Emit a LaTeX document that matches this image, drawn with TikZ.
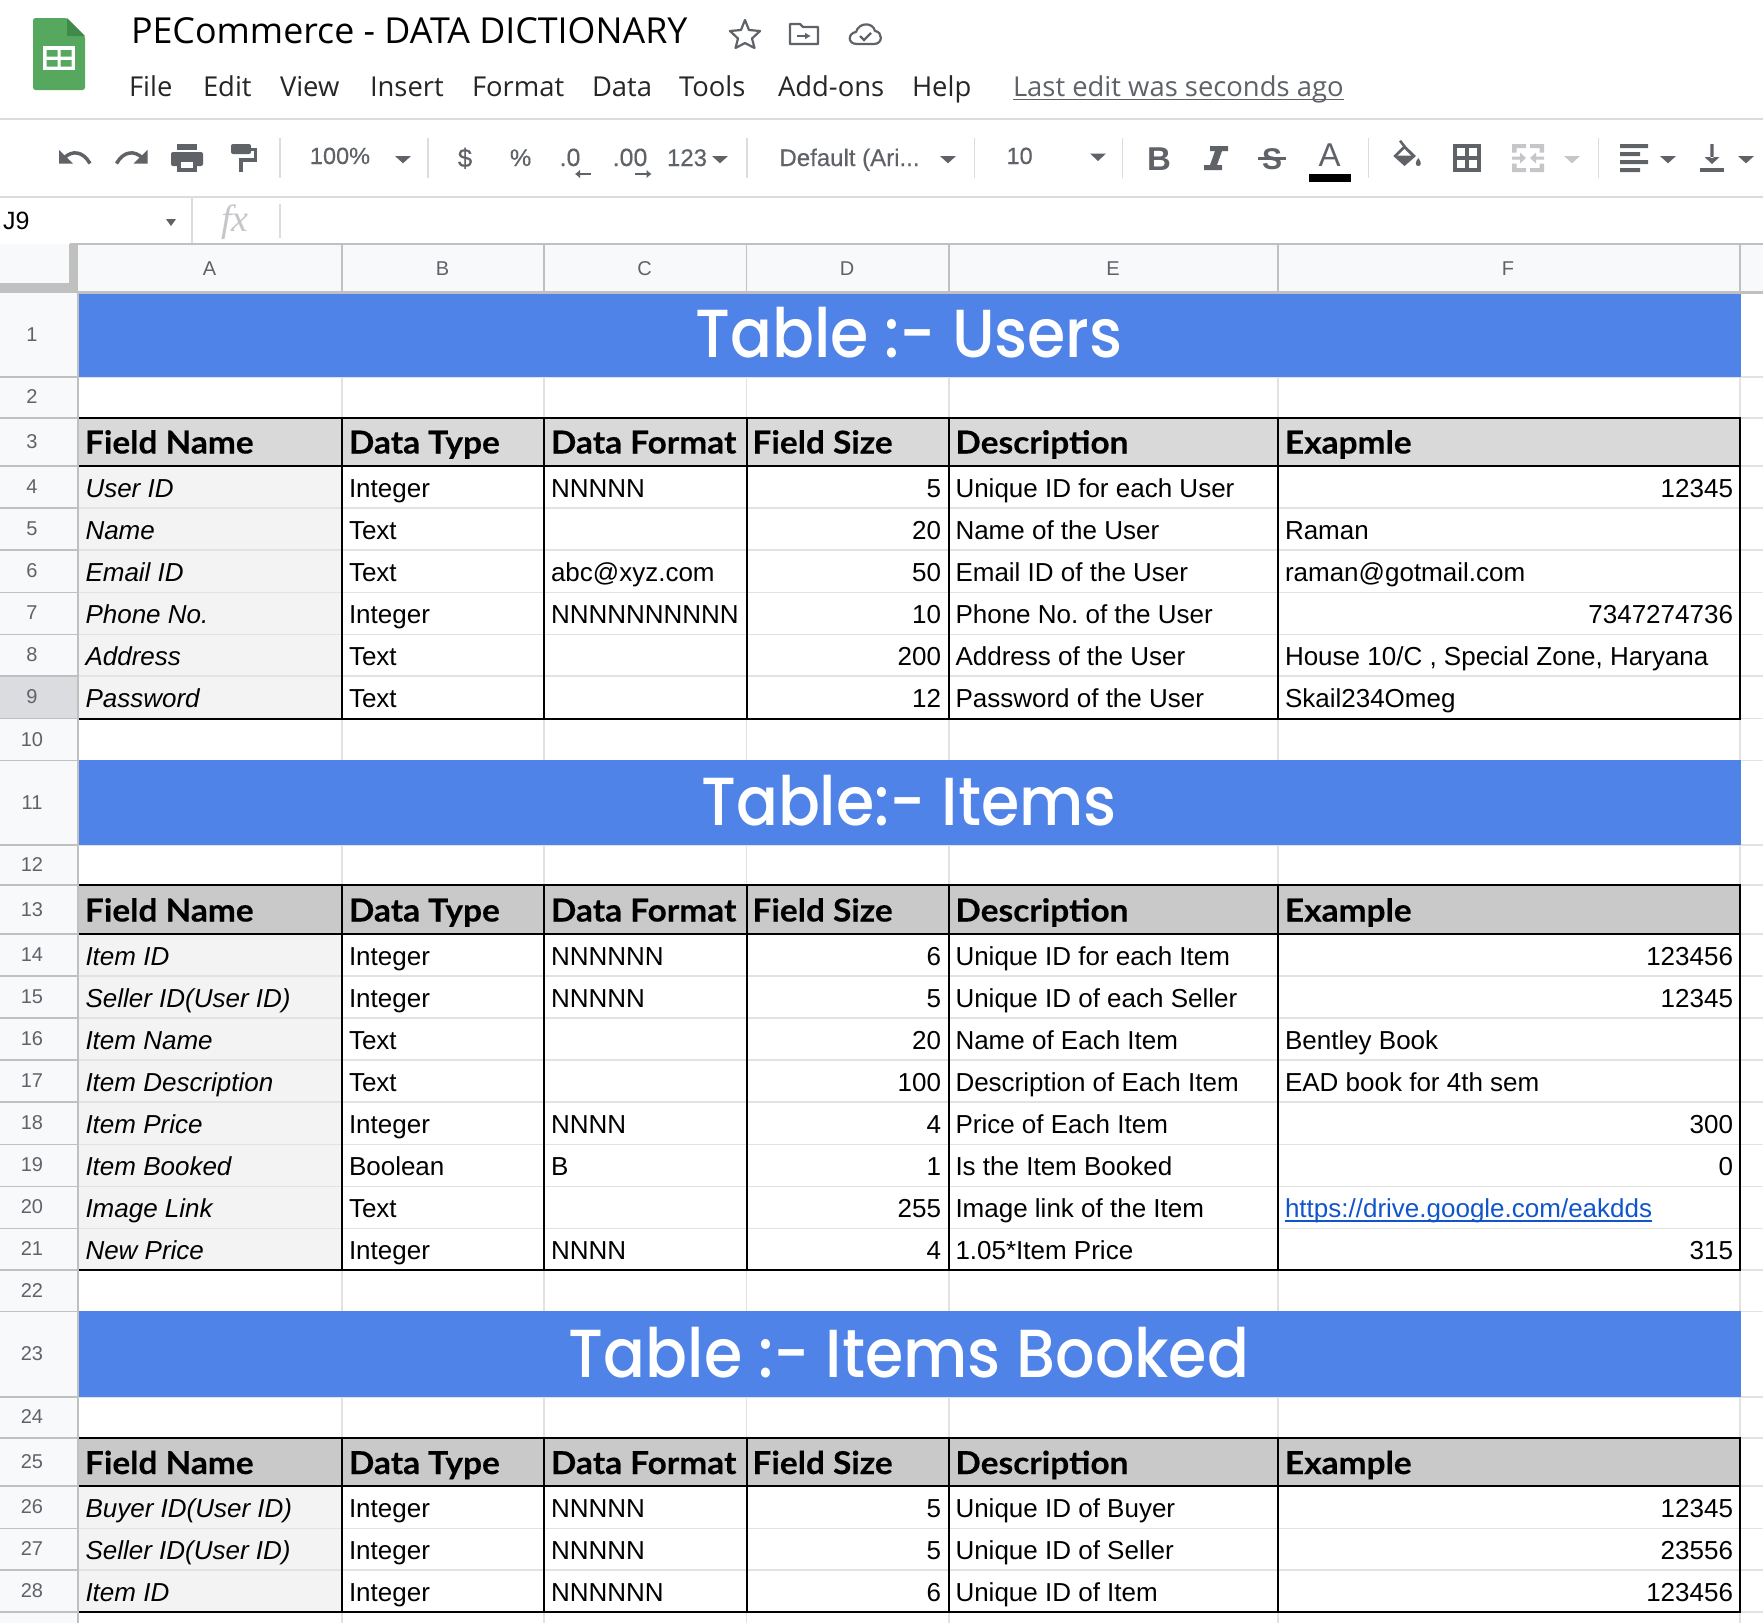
\documentclass[tikz,border=0pt]{standalone}
\usetikzlibrary{arrows.meta}
\usepackage{fontspec}
\setmainfont{Liberation Sans}
\newfontfamily\uifam{Open Sans}
\newfontfamily\hdrfam{Lato}[BoldFeatures={FakeBold=0.3}]
\newfontfamily\bandfam{Poppins}[UprightFont=* Medium]
\newfontfamily\fxfam{Liberation Serif}
\newfontfamily\tbfam{Liberation Sans}[FakeBold=0.35]
\newcommand{\fsz}[1]{\fontsize{#1}{#1}\selectfont}
\definecolor{uigray}{HTML}{5F6368}
\definecolor{uiline}{HTML}{DADCE0}
\definecolor{hdrbg}{HTML}{F8F9FA}
\definecolor{hdrline}{HTML}{C0C0C0}
\definecolor{gridc}{HTML}{E2E2E2}
\definecolor{bandc}{HTML}{4F83E8}
\definecolor{hdrA}{HTML}{D9D9D9}
\definecolor{hdrB}{HTML}{C9C9C9}
\definecolor{colA}{HTML}{F3F3F3}
\definecolor{linkc}{HTML}{1155CC}
\definecolor{sheetg}{HTML}{57A85F}
\definecolor{sheetd}{HTML}{3F8A4B}
\definecolor{lightic}{HTML}{C4C6C9}
\tikzset{
  txt/.style={inner sep=0pt,outer sep=0pt},
  cell/.style={txt,anchor=base west,font=\fsz{26},text=black},
  cellit/.style={cell,font=\fsz{26}\itshape},
  cellr/.style={txt,anchor=base east,font=\fsz{26},text=black},
  head/.style={txt,anchor=base west,font=\hdrfam\bfseries\fsz{31.5},text=black,xscale=1.06,transform shape},
  bandt/.style={txt,anchor=base,font=\bandfam\fsz{68},text=white,xscale=.91,transform shape},
  rownumt/.style={txt,anchor=base,font=\fsz{20},text=uigray},
  colt/.style={txt,anchor=base,font=\fsz{20},text=uigray},
  menut/.style={txt,anchor=base west,font=\uifam\fsz{27.4},text=black!85},
  tbt/.style={txt,anchor=base,font=\tbfam\fsz{23.5},text=uigray},
  sepl/.style={uiline,line width=1.5pt},
  tri/.style={fill=uigray},
  icon/.style={draw=uigray,line width=3.5pt},
  blackl/.style={black,line width=2pt},
}
% column edges: 78 342 544 746.6 949 1278 1740.2
\newcommand{\cellt}[4]{\if\relax\detokenize{#4}\relax\else\node[#1] (#2) at (#3) {#4};\fi}
\newcommand{\rowdata}[7]{% num, base, A, B, C, D, E
  \cellt{cellit}{c#1A}{85.5,#2}{#3}
  \cellt{cell}{c#1B}{349,#2}{#4}
  \cellt{cell}{c#1C}{551,#2}{#5}
  \cellt{cellr}{c#1D}{941,#2}{#6}
  \cellt{cell}{c#1E}{955.5,#2}{#7}
}
\newcommand{\exL}[3]{\node[cell] (c#1F) at (1285,#2) {#3};}
\newcommand{\exR}[3]{\node[cellr] (c#1F) at (1733,#2) {#3};}
\newcommand{\headrow}[3]{% num, base, last title
  \node[head] (c#1A) at (85,#2) {Field Name};
  \node[head] (c#1B) at (349,#2) {Data Type};
  \node[head] (c#1C) at (551,#2) {Data Format};
  \node[head] (c#1D) at (752.5,#2) {Field Size};
  \node[head] (c#1E) at (955.5,#2) {Description};
  \node[head] (c#1F) at (1285,#2) {#3};
}
\newcommand{\tablebg}[4]{% top, head bottom, bottom, header colour
  \fill[#4] (78,#1) rectangle (1740.2,#2);
  \fill[colA] (78,#2) rectangle (342,#3);
}
\newcommand{\tablelines}[3]{%
  \draw[blackl] (78,#1) -- (1741.2,#1) (78,#2) -- (1741.2,#2) (78,#3) -- (1741.2,#3);
  \foreach \xx in {342,544,746.6,949,1278,1740.2} {\draw[blackl] (\xx,#1) -- (\xx,#3);}
}
\newcommand{\rnum}[3]{% num, top, bottom
  \node[rownumt] (r#1) at (32,{(#2+#3)/2+6.5}) {#1};
  \draw[hdrline,line width=1.5pt] (0,#3) -- (78,#3);
}
\begin{document}
\frenchspacing
\begin{tikzpicture}[x=1pt,y=-1pt]
\useasboundingbox (0,0) rectangle (1763,1623);
\fill[white] (0,0) rectangle (1763,1623);

% ---- title bar
\fill[sheetg,rounded corners=2.5pt] (33,18) -- (67,18) -- (85,36) -- (85,90) -- (33,90) -- cycle;
\fill[sheetd] (67,18) -- (85,36) -- (67,36) -- cycle;
\fill[white] (43,46) rectangle (75,70);
\fill[sheetg] (46.5,50) rectangle (57.5,56.5) (60.5,50) rectangle (71.5,56.5) (46.5,60) rectangle (57.5,66.5) (60.5,60) rectangle (71.5,66.5);
\node[txt,anchor=base west,font=\uifam\fsz{35.8},text=black] (title) at (131,43.5) {PECommerce - DATA DICTIONARY};
% star
\draw[uigray,line width=2.2pt,line join=round] (745,20) -- (749,30) -- (760,31) -- (752,38.5) -- (754.5,48) -- (745,43) -- (735.5,48) -- (738,38.5) -- (730,31) -- (741,30) -- cycle;
% folder
\draw[uigray,line width=2.2pt,line join=round] (790,24) -- (800,24) -- (803,27) -- (818,27) -- (818,44) -- (790,44) -- cycle;
\draw[uigray,line width=2.2pt,-{Latex[length=6pt,width=7pt]}] (797,36) -- (811,36);
% cloud
\draw[uigray,line width=2.2pt,line join=round] (857,44) .. controls (847,44) and (848,33) .. (856,32) .. controls (859,22) and (873,22) .. (875,31) .. controls (883,32) and (883,44) .. (874,44) -- cycle;
\draw[uigray,line width=2.2pt] (860,36) -- (864,40) -- (871,33);
% menu
\node[menut] (mFile) at (129,96) {File};
\node[menut] (mEdit) at (203,96) {Edit};
\node[menut] (mView) at (280,96) {View};
\node[menut] (mInsert) at (370,96) {Insert};
\node[menut] (mFormat) at (472,96) {Format};
\node[menut] (mData) at (592,96) {Data};
\node[menut] (mTools) at (679,96) {Tools};
\node[menut] (mAdd) at (778,96) {Add-ons};
\node[menut] (mHelp) at (912,96) {Help};
\node[menut,text=uigray] (lastedit) at (1013,96) {Last edit was seconds ago};
\draw[uigray,line width=1.5pt] ([yshift=-3.5pt]lastedit.base west) -- ([yshift=-3.5pt]lastedit.base east);
\draw[uiline,line width=2pt] (0,118.7) -- (1763,118.7);

% ---- toolbar
\foreach \xx in {280,428,747,974.6,1122.7,1368.7,1598.7} {\draw[sepl] (\xx,138) -- (\xx,178);}
% undo / redo
\fill[uigray] (59,150) -- (59,163.5) -- (73,163.5) -- cycle;
\draw[icon] (64,158) .. controls (72,150) and (83,151) .. (90,163.5);
\fill[uigray] (147.5,150) -- (147.5,163.5) -- (133.5,163.5) -- cycle;
\draw[icon] (142.5,158) .. controls (134.5,150) and (123.5,151) .. (116.5,163.5);
% print
\fill[uigray] (177,144) rectangle (197,150);
\fill[uigray,rounded corners=2pt] (171,152) rectangle (203,166);
\fill[uigray] (177,162) rectangle (197,172);
\fill[white] (181,162) rectangle (193,168);
% paint format
\fill[uigray,rounded corners=2pt] (231,144) rectangle (251,154);
\draw[uigray,line width=3.5pt] (251,149.5) -- (255.5,149.5) -- (255.5,160) -- (241,160) -- (241,172);
% number formats
\node[tbt] (zoomt) at (340,164) {100\%};
\fill[tri] (395,156) -- (411,156) -- (403,163.3) -- cycle;
\node[tbt,font=\tbfam\fsz{26}] (dollar) at (465,167) {\$};
\node[tbt,font=\tbfam\fsz{24}] (pct) at (520.6,166) {\%};
\node[tbt,font=\tbfam\fsz{25}] (dec0) at (570,166) {.0};
\draw[uigray,line width=2.5pt,-{Latex[length=5pt,width=9pt]}] (591,174) -- (575,174);
\node[tbt,font=\tbfam\fsz{25}] (dec00) at (630,166) {.00};
\draw[uigray,line width=2.5pt,-{Latex[length=5pt,width=9pt]}] (635,174) -- (651.5,174);
\node[tbt,font=\tbfam\fsz{24}] (n123) at (687,166) {123};
\fill[tri] (712,156) -- (728,156) -- (720,163.3) -- cycle;
\node[tbt,anchor=base west,font=\tbfam\fsz{24}] (fontn) at (779.5,166) {Default (Ari...};
\fill[tri] (940,156) -- (956,156) -- (948,163.3) -- cycle;
\node[tbt] (fsize) at (1019.6,164) {10};
\fill[tri] (1090,153.5) -- (1106,153.5) -- (1098,161) -- cycle;
% B I S A
\node[tbt,font=\bfseries\fsz{33}] (boldb) at (1159,170) {B};
\fill[uigray] (1210,146) rectangle (1228,151) (1204,165) rectangle (1222,170) (1215,151) -- (1222,151) -- (1217,165) -- (1210,165) -- cycle;
\node[tbt,font=\bfseries\fsz{30}] (stk) at (1272,169) {S};
\draw[uigray,line width=3pt] (1258,158) -- (1286,158);
\node[tbt,font=\fsz{33}] (fcolor) at (1329.5,166) {A};
\fill[black] (1309,174) rectangle (1351,182);
% fill colour
\fill[uigray] (1404.5,145) -- (1416,156) -- (1404.5,166) -- (1393.3,156) -- cycle;
\fill[white] (1397.5,155.7) -- (1404.5,149) -- (1411,155.7) -- cycle;
\draw[uigray,line width=2.5pt] (1400,140.7) -- (1405,147);
\fill[uigray] (1418.3,158) .. controls (1415,162) and (1415,166) .. (1418.3,166) .. controls (1421.6,166) and (1421.6,162) .. (1418.3,158) -- cycle;
% borders
\draw[uigray,line width=3.5pt] (1454.8,145.8) rectangle (1479.2,170.2) (1467,145.8) -- (1467,170.2) (1454.8,158) -- (1479.2,158);
% merge
\fill[lightic] (1512,144) rectangle (1526,148) (1512,144) rectangle (1516.5,152.5) (1512,168) rectangle (1526,172) (1512,163.5) rectangle (1516.5,172);
\fill[lightic] (1530,144) rectangle (1544,148) (1539.5,144) rectangle (1544,152.5) (1530,168) rectangle (1544,172) (1539.5,163.5) rectangle (1544,172);
\fill[lightic] (1512,156.5) rectangle (1520,159.5) (1520,152.5) -- (1526,158) -- (1520,163.5) -- cycle;
\fill[lightic] (1536,156.5) rectangle (1544,159.5) (1536,152.5) -- (1530,158) -- (1536,163.5) -- cycle;
\fill[lightic] (1564,156) -- (1580,156) -- (1572,163.3) -- cycle;
% align
\fill[uigray] (1620,144) rectangle (1648,148) (1620,152) rectangle (1640,156) (1620,160) rectangle (1648,164) (1620,168) rectangle (1640,172);
\fill[tri] (1660,156) -- (1676,156) -- (1668,163.3) -- cycle;
% valign
\fill[uigray] (1710.3,144) rectangle (1713.7,158) (1704.5,157) -- (1719.5,157) -- (1712,164) -- cycle;
\fill[uigray] (1700,168) rectangle (1724,172);
\fill[tri] (1738,156) -- (1754,156) -- (1746,163.3) -- cycle;
\draw[uiline,line width=2pt] (0,197) -- (1763,197);

% ---- formula bar
\node[tbt,anchor=base west,font=\fsz{25},text=black] (namebox) at (3,229) {J9};
\fill[uigray] (166,219) -- (176,219) -- (171,226) -- cycle;
\draw[sepl] (192,197) -- (192,245);
\node[txt,anchor=base,font=\fxfam\itshape\fsz{38},text=lightic] (fx) at (235,231) {fx};
\draw[sepl] (280,204) -- (280,238);

% ---- sheet backgrounds
\begin{scope}[yshift=.8pt]
\fill[hdrbg] (0,245) rectangle (1763,293.3);
\fill[hdrbg] (0,293.3) rectangle (78,1623.8);
\fill[uiline] (0,676.9) rectangle (78,719.3);
\fill[hdrline] (69,245) rectangle (78,293.3);
\fill[hdrline] (0,284) rectangle (78,293.3);

% light grid
\foreach \yy in {377.7,418.7,466.7,509,551,593.2,635.2,677,719.3,761.4,845.8,886,934.6,976.7,1018.8,1060.9,1103,1145.1,1187.2,1229.3,1270.8,1312.3,1397.8,1438.7,1487,1529.2,1571,1612.7} {\draw[gridc,line width=1.5pt] (78,\yy) -- (1763,\yy);}
\foreach \xx in {342,544,746.6,949,1278,1740.2} {\draw[gridc,line width=1.5pt] (\xx,293.3) -- (\xx,1623.8);}

% bands
\fill[bandc] (78,293.8) rectangle (1741,377.7);
\fill[bandc] (78,761) rectangle (1741,845.8);
\fill[bandc] (78,1312) rectangle (1741,1397.8);

% table fills
\tablebg{418.7}{466.7}{719.3}{hdrA}
\tablebg{886}{934.6}{1270.8}{hdrB}
\tablebg{1438.7}{1487}{1612.7}{hdrB}
\foreach \yy in {509,551,593.2,635.2,677} {\draw[gridc,line width=1.5pt] (78,\yy) -- (342,\yy);}
\foreach \yy in {976.7,1018.8,1060.9,1103,1145.1,1187.2,1229.3} {\draw[gridc,line width=1.5pt] (78,\yy) -- (342,\yy);}
\foreach \yy in {1529.2,1571} {\draw[gridc,line width=1.5pt] (78,\yy) -- (342,\yy);}
\tablelines{418.7}{466.7}{719.3}
\tablelines{886}{934.6}{1270.8}
\tablelines{1438.7}{1487}{1612.7}

% column header
\draw[hdrline,line width=2pt] (70,245) -- (1763,245);
\draw[hdrline,line width=2.5pt] (78,293.3) -- (1763,293.3);
\foreach \xx in {342,544,746.6,949,1278,1740.2} {\draw[hdrline,line width=1.5pt] (\xx,245) -- (\xx,293.3);}
\draw[hdrline,line width=2pt] (77.5,293.3) -- (77.5,1623.8);
\node[colt] (colhA) at (209.5,276) {A};
\node[colt] (colhB) at (442.6,276) {B};
\node[colt] (colhC) at (644.7,276) {C};
\node[colt] (colhD) at (847,276) {D};
\node[colt] (colhE) at (1113,276) {E};
\node[colt] (colhF) at (1508,276) {F};

% row numbers
\rnum{1}{293.3}{377.7}\rnum{2}{377.7}{418.7}\rnum{3}{418.7}{466.7}\rnum{4}{466.7}{509}
\rnum{5}{509}{551}\rnum{6}{551}{593.2}\rnum{7}{593.2}{635.2}\rnum{8}{635.2}{677}
\rnum{9}{677}{719.3}\rnum{10}{719.3}{761.4}\rnum{11}{761.4}{845.8}\rnum{12}{845.8}{886}
\rnum{13}{886}{934.6}\rnum{14}{934.6}{976.7}\rnum{15}{976.7}{1018.8}\rnum{16}{1018.8}{1060.9}
\rnum{17}{1060.9}{1103}\rnum{18}{1103}{1145.1}\rnum{19}{1145.1}{1187.2}\rnum{20}{1187.2}{1229.3}
\rnum{21}{1229.3}{1270.8}\rnum{22}{1270.8}{1312.3}\rnum{23}{1312.3}{1397.8}\rnum{24}{1397.8}{1438.7}
\rnum{25}{1438.7}{1487}\rnum{26}{1487}{1529.2}\rnum{27}{1529.2}{1571}\rnum{28}{1571}{1612.7}
\end{scope}

\node[bandt] (band1) at (909,357.5) {Table :- Users};
\node[bandt] (band2) at (909,825.5) {Table:- Items};
\node[bandt] (band3) at (909,1377) {Table :- Items Booked};

% table 1
\headrow{3}{453.5}{Exapmle}
\rowdata{4}{497.3}{User ID}{Integer}{NNNNN}{5}{Unique ID for each User}\exR{4}{497.3}{12345}
\rowdata{5}{539.3}{Name}{Text}{}{20}{Name of the User}\exL{5}{539.3}{Raman}
\rowdata{6}{581.4}{Email ID}{Text}{abc@xyz.com}{50}{Email ID of the User}\exL{6}{581.4}{raman@gotmail.com}
\rowdata{7}{623.5}{Phone No.}{Integer}{NNNNNNNNNN}{10}{Phone No. of the User}\exR{7}{623.5}{7347274736}
\rowdata{8}{665.6}{Address}{Text}{}{200}{Address of the User}\exL{8}{665.6}{House 10/C , Special Zone, Haryana}
\rowdata{9}{707.7}{Password}{Text}{}{12}{Password of the User}\exL{9}{707.7}{Skail234Omeg}

% table 2
\headrow{13}{921.5}{Example}
\rowdata{14}{965}{Item ID}{Integer}{NNNNNN}{6}{Unique ID for each Item}\exR{14}{965}{123456}
\rowdata{15}{1007.1}{Seller ID(User ID)}{Integer}{NNNNN}{5}{Unique ID of each Seller}\exR{15}{1007.1}{12345}
\rowdata{16}{1049.2}{Item Name}{Text}{}{20}{Name of Each Item}\exL{16}{1049.2}{Bentley Book}
\rowdata{17}{1091.3}{Item Description}{Text}{}{100}{Description of Each Item}\exL{17}{1091.3}{EAD book for 4th sem}
\rowdata{18}{1133.4}{Item Price}{Integer}{NNNN}{4}{Price of Each Item}\exR{18}{1133.4}{300}
\rowdata{19}{1175.5}{Item Booked}{Boolean}{B}{1}{Is the Item Booked}\exR{19}{1175.5}{0}
\rowdata{20}{1217.6}{Image Link}{Text}{}{255}{Image link of the Item}
\node[cell,text=linkc] (c20F) at (1285,1217.6) {https://drive.google.com/eakdds};
\draw[linkc,line width=1.5pt] ([yshift=-3.5pt]c20F.base west) -- ([yshift=-3.5pt]c20F.base east);
\rowdata{21}{1259.1}{New Price}{Integer}{NNNN}{4}{1.05*Item Price}\exR{21}{1259.1}{315}

% table 3
\headrow{25}{1474}{Example}
\rowdata{26}{1517.5}{Buyer ID(User ID)}{Integer}{NNNNN}{5}{Unique ID of Buyer}\exR{26}{1517.5}{12345}
\rowdata{27}{1559.5}{Seller ID(User ID)}{Integer}{NNNNN}{5}{Unique ID of Seller}\exR{27}{1559.5}{23556}
\rowdata{28}{1601}{Item ID}{Integer}{NNNNNN}{6}{Unique ID of Item}\exR{28}{1601}{123456}
\end{tikzpicture}
\end{document}
